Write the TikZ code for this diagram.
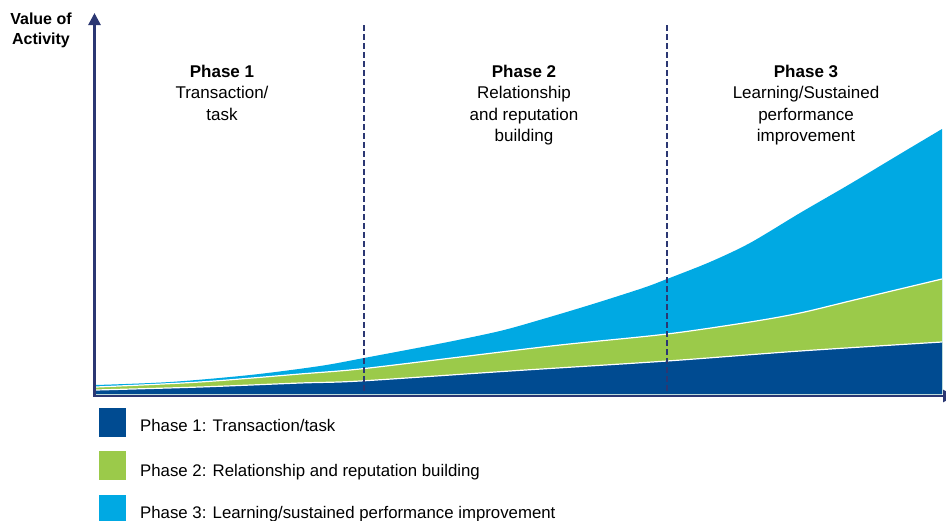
\documentclass[tikz,border=0pt]{standalone}
\usepackage{fontspec}
\setmainfont{Liberation Sans}
\usetikzlibrary{arrows.meta}
\definecolor{navy}{RGB}{43,55,115}
\definecolor{pone}{RGB}{0,75,145}
\definecolor{ptwo}{RGB}{155,202,74}
\definecolor{pthree}{RGB}{0,169,227}
\tikzset{
  axisline/.style={draw=navy, line width=2.6pt, -{Triangle[width=12pt,length=12pt]}},
  divider/.style={draw=navy, line width=2.2pt, dash pattern=on 6pt off 3pt},
  sepline/.style={draw=white, line width=1.2pt},
  heading/.style={anchor=north, inner sep=0pt, align=center, font=\fontsize{17}{21.5}\selectfont},
  ylabel/.style={anchor=north, inner sep=0pt, align=center, font=\bfseries\fontsize{16}{19.5}\selectfont},
  legbox/.style={minimum width=27pt, minimum height=29pt, inner sep=0pt, draw=none},
  legtext/.style={anchor=base west, inner sep=0pt, font=\fontsize{16.8}{20}\selectfont},
}
\begin{document}
\begin{tikzpicture}[x=1pt,y=-1pt]
\useasboundingbox (0,0) rectangle (946,520);
% areas
\fill[pthree] (96,394) -- plot[smooth] coordinates {(96,385) (170,382) (250,375) (320,366) (364,358) (443,343) (500,331) (543,319) (593,304) (643,288) (667,279) (710,262) (750,243) (800,213) (850,184) (900,154) (942,129)} -- (942,394) -- cycle;
\fill[ptwo] (96,394) -- plot[smooth] coordinates {(96,387) (200,382) (300,374) (360,369) (460,357) (560,345) (667,334) (750,322) (800,313) (850,301) (900,289) (942,279)} -- (942,394) -- cycle;
\fill[pone] (96,394) -- plot[smooth] coordinates {(96,390) (200,387) (300,383) (360,381) (510,371) (667,361) (800,351) (942,342)} -- (942,394) -- cycle;
\draw[sepline] plot[smooth] coordinates {(96,387) (200,382) (300,374) (360,369) (460,357) (560,345) (667,334) (750,322) (800,313) (850,301) (900,289) (942,279)};
\draw[sepline] plot[smooth] coordinates {(96,390) (200,387) (300,383) (360,381) (510,371) (667,361) (800,351) (942,342)};
% dividers
\coordinate (d1top) at (364,25);
\coordinate (d1bot) at (364,392);
\coordinate (d2top) at (667,25);
\coordinate (d2bot) at (667,392);
\draw[divider] (d1top) -- (d1bot);
\draw[divider] (d2top) -- (d2bot);
% axes
\coordinate (origin) at (94.5,396);
\coordinate (ytip) at (94.5,13);
\coordinate (xtip) at (955,396);
\draw[axisline] ([yshift=1.3pt]origin) -- (ytip);
\draw[axisline] ([xshift=-1.3pt]origin) -- (xtip);
% labels
\node[ylabel] (yl) at (41,13) {Value of\\Activity};
\node[heading] (h1) at (222,64.8) {{\bfseries Phase 1}\\Transaction/\\task};
\node[heading] (h2) at (524,64.8) {{\bfseries Phase 2}\\Relationship\\and reputation\\building};
\node[heading] (h3) at (806,64.8) {{\bfseries Phase 3}\\Learning/Sustained\\performance\\improvement};
% legend
\node[legbox, fill=pone] (k1) at (112.5,422.5) {};
\node[legbox, fill=ptwo] (k2) at (112.5,465.5) {};
\node[legbox, fill=pthree] (k3) at (112.5,509.5) {};
\node[legtext] (t1) at (140,431) {Phase 1: Transaction/task};
\node[legtext] (t2) at (140,476) {Phase 2: Relationship and reputation building};
\node[legtext] (t3) at (140,518) {Phase 3: Learning/sustained performance improvement};
\end{tikzpicture}
\end{document}
